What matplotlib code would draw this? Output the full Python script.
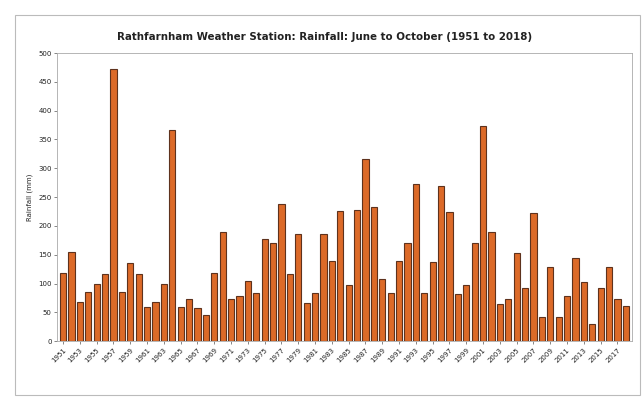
import matplotlib
matplotlib.use("Agg")
import matplotlib.pyplot as plt
from matplotlib.patches import Rectangle

years = list(range(1951, 2019))
rainfall_mm = [
    118, 154, 68, 86, 99, 116, 473, 86, 136, 116,
    60, 68, 99, 366, 60, 74, 58, 46, 118, 190,
    74, 78, 104, 83, 177, 171, 238, 116, 186, 66,
    83, 186, 139, 226, 97, 228, 316, 232, 107, 83,
    139, 171, 273, 84, 138, 270, 225, 81, 98, 170,
    373, 190, 64, 73, 153, 93, 222, 42, 128, 42,
    78, 144, 103, 29, 92, 129, 74, 61,
]
y_ticks = list(range(0, 501, 50))
title = "Rathfarnham Weather Station: Rainfall: June to October (1951 to 2018)"

fig = plt.figure(figsize=(6.42, 3.99), dpi=100)
fig.patches.append(Rectangle((15 / 642, 4 / 399), 625 / 642, 380 / 399,
                             transform=fig.transFigure, fill=False,
                             edgecolor="#bbbbbb", linewidth=0.8))
ax = fig.add_axes([0.089, 0.145, 0.895, 0.722])

x = list(range(len(years)))
ax.bar(x, rainfall_mm, width=0.74, color="#dc6a28", edgecolor="#5e321d",
       linewidth=0.8)

ax.set_ylim(0, 500)
ax.set_xlim(-0.7, len(years) - 0.3)
ax.set_yticks(y_ticks)
ax.set_yticklabels([str(v) for v in y_ticks], fontsize=5, color="#222222")
ax.set_xticks(x[::2])
ax.set_xticklabels([str(y) for y in years[::2]], rotation=45, fontsize=5,
                   color="#222222", ha="right", rotation_mode="anchor")
ax.tick_params(axis="both", length=2, width=0.5, colors="#555555", pad=2)
for lbl in ax.get_xticklabels() + ax.get_yticklabels():
    lbl.set_color("#222222")
ax.set_ylabel("Rainfall (mm)", fontsize=5, color="#222222", labelpad=4)
fig.text(0.505, 1 - 37 / 399, title, fontsize=7.4, fontweight="bold",
         color="#222222", ha="center", va="center")
for side in ("top", "right", "left", "bottom"):
    ax.spines[side].set_color("#aaaaaa")
    ax.spines[side].set_linewidth(0.6)

fig.savefig("out.png", dpi=100, facecolor="white")
